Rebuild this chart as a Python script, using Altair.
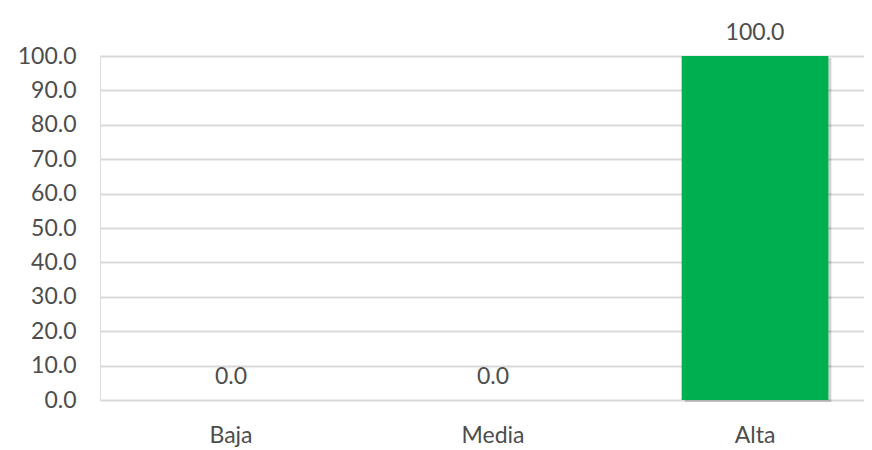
import altair as alt
import pandas as pd

categories = ["Baja", "Media", "Alta"]
values = [0.0, 0.0, 100.0]
y_ticks = [0, 10, 20, 30, 40, 50, 60, 70, 80, 90, 100]

df = pd.DataFrame({"cat": categories, "val": values})

FONT = "Lato"
TXT = "#4d4d4d"

x_enc = alt.X("cat:N", sort=categories, title=None,
              scale=alt.Scale(range=[0, 786], paddingInner=0.44, paddingOuter=0.22),
              axis=alt.Axis(labelAngle=0, ticks=False, domain=False, labelPadding=24,
                            labelFont=FONT, labelFontSize=23, labelColor=TXT))
y_enc = alt.Y("val:Q", title=None,
              scale=alt.Scale(domain=[0, 100], nice=False),
              axis=alt.Axis(values=y_ticks, format=".1f", ticks=False, domain=False,
                            labelOverlap=False, labelBound=False, labelFlush=False,
                            labelPadding=24, labelFont=FONT, labelFontSize=23,
                            labelColor=TXT, gridColor="#d9d9d9", gridWidth=1.8))

base = alt.Chart(df)

shadow = base.mark_bar(color="#000000", opacity=0.18, xOffset=3, yOffset=2).encode(
    x=x_enc, y=y_enc)
bars = base.mark_bar(color="#00B050").encode(x=x_enc, y=y_enc)
labels = base.mark_text(baseline="bottom", dy=-11, font=FONT, fontSize=23, color=TXT).encode(
    x=x_enc, y=y_enc, text=alt.Text("val:Q", format=".1f"))

chart = (shadow + bars + labels).properties(
    width=764, height=344,
    autosize=alt.AutoSizeParams(type="none"),
    padding={"left": 92, "top": 48, "right": 0, "bottom": 50},
).configure_view(stroke=None).configure(background="white")

chart.save("out.html", embed_options={"renderer": "svg", "actions": False})
